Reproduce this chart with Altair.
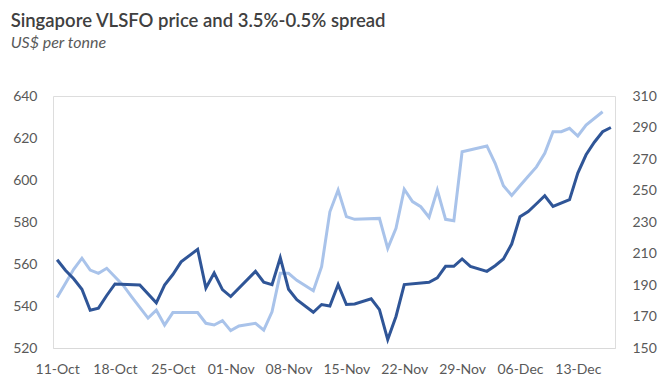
import altair as alt
import pandas as pd

# Singapore VLSFO price (left axis, US$/t) – dates and values read at line vertices
vlsfo_dates = ["2021-10-11", "2021-10-12", "2021-10-13", "2021-10-14", "2021-10-15", "2021-10-16",
               "2021-10-17", "2021-10-18", "2021-10-21", "2021-10-23", "2021-10-24", "2021-10-25",
               "2021-10-26", "2021-10-28", "2021-10-29", "2021-10-30", "2021-10-31", "2021-11-01",
               "2021-11-04", "2021-11-05", "2021-11-06", "2021-11-07", "2021-11-08", "2021-11-09",
               "2021-11-11", "2021-11-12", "2021-11-13", "2021-11-14", "2021-11-15", "2021-11-16",
               "2021-11-18", "2021-11-19", "2021-11-20", "2021-11-21", "2021-11-22", "2021-11-25",
               "2021-11-26", "2021-11-27", "2021-11-28", "2021-11-29", "2021-11-30", "2021-12-02",
               "2021-12-03", "2021-12-04", "2021-12-05", "2021-12-06", "2021-12-07", "2021-12-08",
               "2021-12-09", "2021-12-10", "2021-12-12", "2021-12-13", "2021-12-14", "2021-12-15",
               "2021-12-16", "2021-12-17"]
vlsfo_vals = [562, 557, 553, 548, 538, 539,
              545, 550.5, 550, 541.5, 550, 555,
              561, 567, 548.6, 555.7, 547.8, 544.5,
              556.5, 551.3, 550.2, 563, 548, 543,
              537, 540.7, 540, 550.2, 540.7, 541,
              543.4, 538.3, 524, 535, 550.2, 551.3,
              553.4, 558.9, 558.9, 562.4, 558.9, 556.5,
              559.2, 562.4, 569.5, 582.5, 585, 588.7,
              592.5, 587.4, 590.6, 603.3, 612, 618,
              623, 625]

# 3.5%-0.5% spread (right axis, US$/t)
spread_dates = ["2021-10-11", "2021-10-12", "2021-10-13", "2021-10-14", "2021-10-15", "2021-10-16",
                "2021-10-17", "2021-10-19", "2021-10-20", "2021-10-22", "2021-10-23", "2021-10-24",
                "2021-10-25", "2021-10-28", "2021-10-29", "2021-10-30", "2021-10-31", "2021-11-01",
                "2021-11-02", "2021-11-04", "2021-11-05", "2021-11-06", "2021-11-07", "2021-11-08",
                "2021-11-09", "2021-11-11", "2021-11-12", "2021-11-13", "2021-11-14", "2021-11-15",
                "2021-11-16", "2021-11-19", "2021-11-20", "2021-11-21", "2021-11-22", "2021-11-23",
                "2021-11-24", "2021-11-25", "2021-11-26", "2021-11-27", "2021-11-28", "2021-11-29",
                "2021-12-02", "2021-12-03", "2021-12-04", "2021-12-05", "2021-12-06", "2021-12-07",
                "2021-12-08", "2021-12-09", "2021-12-10", "2021-12-11", "2021-12-12", "2021-12-13",
                "2021-12-14", "2021-12-16"]
spread_vals = [182, 191, 200, 207, 199.5, 197.4,
               200.6, 189.7, 182.6, 169, 174, 164.6,
               172.5, 172.5, 165.7, 164.6, 167.4, 161,
               164, 165.7, 161.4, 173, 197.4, 197.4,
               193, 186.4, 201.6, 236.5, 250.3, 233.4,
               231.7, 232.3, 213.3, 226, 250.8, 243,
               239.7, 233, 250.3, 231.7, 230.8, 274.6,
               278.3, 267.3, 253, 246.8, 253, 259,
               265, 273.6, 287.3, 287.3, 289.5, 284.6,
               291.6, 300]

week_ticks = ["2021-10-11", "2021-10-18", "2021-10-25", "2021-11-01", "2021-11-08",
              "2021-11-15", "2021-11-22", "2021-11-29", "2021-12-06", "2021-12-13"]
left_ticks = [520, 540, 560, 580, 600, 620, 640]
right_ticks = [150, 170, 190, 210, 230, 250, 270, 290, 310]

vlsfo = pd.DataFrame({"date": vlsfo_dates, "value": vlsfo_vals})
spread = pd.DataFrame({"date": spread_dates, "value": spread_vals})


def dt(s, hours=0):
    y, m, d = (int(p) for p in s.split("-"))
    return alt.DateTime(year=y, month=m, date=d, hours=hours, utc=True)


FONT = "Lato"
LABEL = "#595959"

x_enc = alt.X(
    "date:T",
    scale=alt.Scale(type="utc", domain=[dt("2021-10-10", 12), dt("2021-12-17", 12)]),
    axis=alt.Axis(values=[dt(s) for s in week_ticks],
                  labelExpr="utcFormat(datum.value, '%d-%b')",
                  title=None, grid=False, ticks=False, domainColor="#D9D9D9", domainWidth=1,
                  labelColor=LABEL, labelFont=FONT, labelFontSize=14, labelPadding=14,
                  labelOverlap=False),
)

dark = alt.Chart(vlsfo).mark_line(color="#2F5597", strokeWidth=3).encode(
    x=x_enc,
    y=alt.Y("value:Q", scale=alt.Scale(domain=[520, 640], nice=False, zero=False),
            axis=alt.Axis(values=left_ticks, orient="left", title=None, grid=False, ticks=False,
                          domain=False, labelColor=LABEL, labelFont=FONT, labelFontSize=14,
                          labelPadding=16)),
)

light = alt.Chart(spread).mark_line(color="#A9C3EA", strokeWidth=3).encode(
    x=x_enc,
    y=alt.Y("value:Q", scale=alt.Scale(domain=[150, 310], nice=False, zero=False),
            axis=alt.Axis(values=right_ticks, orient="right", title=None, grid=False, ticks=False,
                          domain=False, labelColor=LABEL, labelFont=FONT, labelFontSize=14,
                          labelPadding=17)),
)

chart = alt.layer(light, dark).resolve_scale(y="independent").properties(
    width=562,
    height=252,
    padding={"left": 45, "top": 88, "right": 47, "bottom": 32},
    autosize=alt.AutoSizeParams(type="none"),
    title=alt.TitleParams(
        text="Singapore VLSFO price and 3.5%-0.5% spread",
        subtitle="US$ per tonne",
        anchor="start",
        frame="bounds",
        font=FONT, fontSize=18.5, fontWeight=600, color="#404040",
        subtitleFont=FONT, subtitleFontSize=16, subtitleFontStyle="italic",
        subtitleColor="#595959", subtitlePadding=5, offset=38, dx=-2,
    ),
).configure_view(stroke=None).configure(background="white")

chart.save("out.html", embed_options={"renderer": "svg", "actions": False})
